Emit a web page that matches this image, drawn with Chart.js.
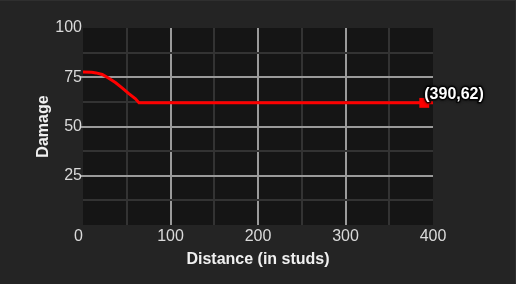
<!DOCTYPE html>
<html>
<head>
<meta charset="utf-8">
<script src="https://cdn.jsdelivr.net/npm/chart.js@4/dist/chart.umd.min.js"></script>
<style>
html,body{margin:0;padding:0;background:#242424;overflow:hidden;}
canvas{display:block;}
</style>
</head>
<body>
<canvas id="c" width="516" height="284"></canvas>
<script>
// Damage falloff curve (distance in studs -> damage)
const distances = [0, 10, 15, 22, 29, 37, 45, 52, 60, 64, 400];
const damage    = [77.7, 77.5, 77.2, 76.4, 74.6, 72.3, 69.5, 66.8, 64.1, 62, 62];
// Highlighted point
const markX = [390];
const markY = [62];
// Axis ticks
const xTicks = [0, 100, 200, 300, 400];
const yTicks = [25, 50, 75, 100];
const xTitle = 'Distance (in studs)';
const yTitle = 'Damage';

const MAJOR = '#9a9a9a', MINOR = '#333333', NONE = 'rgba(0,0,0,0)';

const bgPlugin = {
  id: 'bg',
  beforeDraw(chart) {
    const {ctx, chartArea: a, width, height} = chart;
    ctx.save();
    ctx.fillStyle = '#242424';
    ctx.fillRect(0, 0, width, height);
    ctx.fillStyle = '#2f2f2f';
    ctx.fillRect(0, 0, width, 1);
    ctx.fillRect(width - 1, 0, 1, height);
    ctx.fillStyle = '#151515';
    ctx.fillRect(a.left, a.top, a.right - a.left, a.bottom - a.top);
    ctx.restore();
  }
};

const labelPlugin = {
  id: 'pointLabel',
  afterDatasetsDraw(chart) {
    const meta = chart.getDatasetMeta(1);
    const ctx = chart.ctx;
    meta.data.forEach((el, i) => {
      const txt = '(' + markX[i] + ',' + markY[i] + ')';
      ctx.save();
      ctx.font = 'bold 16px "Liberation Sans", Arial, sans-serif';
      ctx.textAlign = 'left';
      ctx.textBaseline = 'alphabetic';
      ctx.lineJoin = 'round';
      ctx.shadowColor = 'rgba(0,0,0,0.9)';
      ctx.shadowBlur = 3;
      ctx.strokeStyle = 'rgba(0,0,0,0.7)';
      ctx.lineWidth = 3;
      ctx.strokeText(txt, el.x, el.y - 4);
      ctx.shadowBlur = 0;
      ctx.fillStyle = '#ffffff';
      ctx.fillText(txt, el.x, el.y - 4);
      ctx.restore();
    });
  }
};

new Chart(document.getElementById('c'), {
  type: 'line',
  data: {
    datasets: [
      {
        data: distances.map((d, i) => ({x: d, y: damage[i]})),
        borderColor: '#ff0000',
        borderWidth: 3,
        pointRadius: 0,
        tension: 0,
        fill: false
      },
      {
        data: markX.map((d, i) => ({x: d, y: markY[i]})),
        showLine: false,
        pointStyle: 'rect',
        pointRadius: 7,
        pointBackgroundColor: '#ff0000',
        pointBorderColor: '#ff0000',
        borderWidth: 0
      }
    ]
  },
  options: {
    responsive: false,
    animation: false,
    devicePixelRatio: 1,
    layout: {padding: {top: 28, right: 83, left: 0, bottom: 0}},
    plugins: {legend: {display: false}, tooltip: {enabled: false}},
    scales: {
      x: {
        type: 'linear',
        min: 0, max: 400,
        border: {display: false},
        grid: {
          color: c => {
            const v = c.tick ? c.tick.value : -1;
            if (v === 0 || v === 400) return NONE;
            return v % 100 === 0 ? MAJOR : MINOR;
          },
          lineWidth: 2,
          drawTicks: false
        },
        ticks: {
          stepSize: 50,
          autoSkip: false,
          maxRotation: 0,
          padding: 2,
          color: '#dadada',
          font: {size: 16, family: '"Liberation Sans", Arial, sans-serif'},
          callback: v => xTicks.includes(v) ? (v === 0 ? '0  ' : String(v)) : ''
        },
        title: {
          display: true,
          text: xTitle,
          color: '#f0f0f0',
          font: {size: 16, weight: 'bold', family: '"Liberation Sans", Arial, sans-serif'},
          padding: {top: 0, bottom: 15}
        },
        afterFit: s => { s.height = 59; }
      },
      y: {
        type: 'linear',
        min: 0, max: 100,
        border: {display: false},
        grid: {
          color: c => {
            const v = c.tick ? c.tick.value : -1;
            if (v === 0 || v === 100) return NONE;
            return v % 25 === 0 ? MAJOR : MINOR;
          },
          tickColor: c => (c.tick && yTicks.includes(c.tick.value) && c.tick.value < 100) ? MAJOR : NONE,
          lineWidth: 2,
          tickLength: 3
        },
        ticks: {
          stepSize: 12.5,
          autoSkip: false,
          padding: -2,
          color: '#dadada',
          font: {size: 16, family: '"Liberation Sans", Arial, sans-serif'},
          callback: v => yTicks.includes(v) ? String(v) : ''
        },
        title: {
          display: true,
          text: yTitle,
          color: '#f0f0f0',
          font: {size: 16, weight: 'bold', family: '"Liberation Sans", Arial, sans-serif'},
          padding: {top: 34, bottom: 0}
        },
        afterFit: s => { s.width = 83; }
      }
    }
  },
  plugins: [bgPlugin, labelPlugin]
});
</script>
</body>
</html>
